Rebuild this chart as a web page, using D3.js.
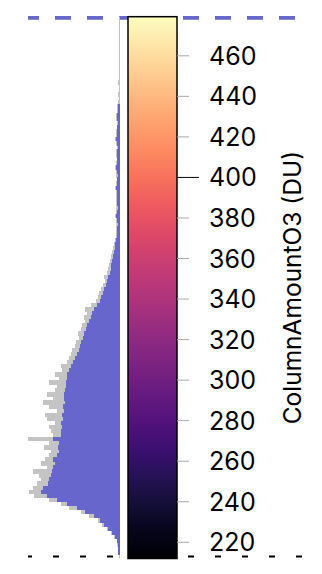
<!DOCTYPE html>
<html>
<head>
<meta charset="utf-8">
<script src="https://cdn.jsdelivr.net/npm/d3@7"></script>
<style>
  body { margin: 0; background: #fff; }
  svg { display: block; }
  .tickLabel { font-family: Inter, sans-serif; font-size: 25px; fill: #000; }
  .axisTitle { font-family: Inter, sans-serif; font-size: 24.5px; fill: #000; }
</style>
</head>
<body>
<div id="chart"></div>
<script>
/* Data */

// colour range of the bar, DU
var climLow = 212
var climHigh = 479.3

var tickValues = [220, 240, 260, 280, 300, 320, 340, 360, 380, 400, 420, 440, 460]
var markedTick = 400 // the one drawn long and black

// histogram bins: 2 DU wide, first bin starts at 214
var binStart = 214
var binWidth = 2

// selection histogram (blue)
var blueCounts = [
  1, 1, 1.5, 2, 4, 7, 11, 15, 19, 25,
  34, 42, 52, 62, 72, 78, 76, 71, 70, 68,
  67, 66, 64, 66, 62, 60, 61, 60, 66, 58,
  58, 57, 58, 56, 57, 55, 56, 54, 55, 55,
  54, 53, 53, 52, 52, 50, 48, 46, 44, 42,
  40, 39, 38, 36, 35, 33, 32, 30, 28, 27,
  25, 22, 19, 18, 16, 15, 13, 12, 11, 9.5,
  8.5, 8, 7, 6, 5, 4.5, 4, 3, 2.5, 2,
  2.5, 1.5, 2, 3, 2, 1.5, 2, 2.5, 2, 2,
  3, 2, 2, 1.5, 2.5, 3, 2, 2, 2.5, 2,
  1.5, 2, 3, 2, 2.5, 2, 1.5, 2, 2.5, 1.5,
  1, 0, 0, 0, 0, 0, 0
]

// full histogram (grey, behind)
var greyCounts = [
  1.5, 1.5, 2, 2.5, 5, 8, 12, 17, 21, 30,
  38, 50, 58, 70, 85, 90, 86, 82, 78, 80,
  86, 72, 78, 74, 70, 68, 75, 70, 91, 66,
  68, 70, 64, 72, 74, 62, 70, 76, 66, 72,
  64, 62, 70, 60, 64, 57, 58, 52, 50, 48,
  47, 44, 43, 40, 41, 38, 37, 34, 35, 32,
  34, 28, 23, 21, 20, 18, 16, 14, 15, 12,
  11, 10, 9, 8, 7, 6, 5, 4.5, 3.5, 3,
  3.5, 3, 3, 4, 3, 3, 3, 3.5, 3, 3,
  4, 3, 2.5, 3, 3.5, 4, 3, 2.5, 3.5, 3,
  2.5, 3, 4, 3, 3.5, 2.5, 2.5, 3, 3.5, 2.5,
  2, 1, 0, 1, 0, 0, 1
]

var title = "ColumnAmountO3 (DU)"

/* Layout */

var width = 322
var height = 574
var barLeft = 128, barRight = 177
var barTop = 16.7, barBottom = 558.5
var histBase = 119.5, histLeft = 28
var lineRight = 303

var svg = d3.select("#chart").append("svg")
  .attr("width", width)
  .attr("height", height)

var yScale = d3.scaleLinear()
  .domain([climLow, climHigh])
  .range([barBottom, barTop])

var xScale = d3.scaleLinear()
  .domain([0, d3.max(greyCounts)])
  .range([histBase, histLeft])

var bins = blueCounts.map((b, i) => ({
  lo: binStart + i * binWidth,
  hi: binStart + (i + 1) * binWidth,
  blue: b,
  grey: greyCounts[i]
}))

// dashed limit lines sit behind everything
svg.append("line")
  .attr("x1", histLeft).attr("x2", lineRight)
  .attr("y1", 17.8).attr("y2", 17.8)
  .attr("stroke", "#6666cc")
  .attr("stroke-width", 3.8)
  .attr("stroke-dasharray", "16,16")
  .attr("stroke-dashoffset", 5)

svg.append("line")
  .attr("x1", histLeft).attr("x2", lineRight)
  .attr("y1", 556.5).attr("y2", 556.5)
  .attr("stroke", "#000")
  .attr("stroke-width", 1.8)
  .attr("stroke-dasharray", "6,21")
  .attr("stroke-dashoffset", 2)

// histogram baseline
svg.append("line")
  .attr("x1", histBase).attr("x2", histBase)
  .attr("y1", barTop).attr("y2", barBottom)
  .attr("stroke", "#c4c4c4")
  .attr("stroke-width", 1)

var hist = svg.append("g")
  .attr("shape-rendering", "crispEdges")

hist.selectAll(".greyBar")
  .data(bins.filter(d => d.grey > 0))
  .enter().append("rect")
  .attr("class", "greyBar")
  .attr("x", d => xScale(d.grey))
  .attr("y", d => yScale(d.hi))
  .attr("width", d => xScale(0) - xScale(d.grey))
  .attr("height", d => yScale(d.lo) - yScale(d.hi) + 0.5)
  .attr("fill", "#c4c4c4")

hist.selectAll(".blueBar")
  .data(bins.filter(d => d.blue > 0))
  .enter().append("rect")
  .attr("class", "blueBar")
  .attr("x", d => xScale(d.blue))
  .attr("y", d => yScale(d.hi))
  .attr("width", d => xScale(0) - xScale(d.blue))
  .attr("height", d => yScale(d.lo) - yScale(d.hi) + 0.5)
  .attr("fill", "#6666cc")

// colour bar, magma from low (bottom) to high (top)
var grad = svg.append("defs").append("linearGradient")
  .attr("id", "magmaGrad")
  .attr("x1", 0).attr("y1", 1)
  .attr("x2", 0).attr("y2", 0)

d3.range(0, 1.0001, 0.05).forEach(t => {
  grad.append("stop")
    .attr("offset", t)
    .attr("stop-color", d3.interpolateMagma(t))
})

svg.append("rect")
  .attr("x", barLeft)
  .attr("y", barTop)
  .attr("width", barRight - barLeft)
  .attr("height", barBottom - barTop)
  .attr("fill", "url(#magmaGrad)")
  .attr("stroke", "#000")
  .attr("stroke-width", 1.5)

// ticks + labels
var ticks = svg.append("g")

ticks.selectAll("line")
  .data(tickValues)
  .enter().append("line")
  .attr("x1", barRight)
  .attr("x2", d => d == markedTick ? barRight + 22 : barRight + 12)
  .attr("y1", d => yScale(d))
  .attr("y2", d => yScale(d))
  .attr("stroke", d => d == markedTick ? "#000" : "#aaa")
  .attr("stroke-width", 1)

ticks.selectAll("text")
  .data(tickValues)
  .enter().append("text")
  .attr("class", "tickLabel")
  .attr("x", 209)
  .attr("y", d => yScale(d))
  .attr("dy", "0.36em")
  .text(d => d)

svg.append("text")
  .attr("class", "axisTitle")
  .attr("transform", `translate(301,${(barTop + barBottom) / 2}) rotate(-90)`)
  .attr("text-anchor", "middle")
  .text(title)
</script>
</body>
</html>
